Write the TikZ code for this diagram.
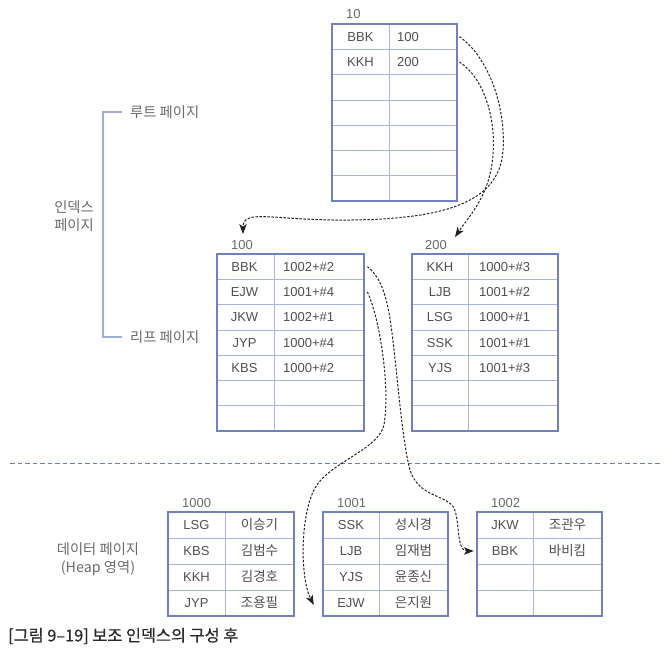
\documentclass[tikz,border=0pt]{standalone}
\usepackage{fontspec}
\setmainfont{Liberation Sans}
\newfontfamily\kr{Noto Sans CJK KR}
\newfontfamily\krcap{Noto Sans CJK KR}[FakeBold=0.6]
\usetikzlibrary{arrows.meta}
\definecolor{tblout}{HTML}{7080C4}
\definecolor{tblin}{HTML}{A9B5DE}
\definecolor{txt}{HTML}{505050}
\definecolor{lbl}{HTML}{6A6A6A}
\definecolor{capc}{HTML}{2A2A2A}
\definecolor{sepc}{HTML}{6E7CC0}
\definecolor{ptrc}{HTML}{222222}
% #1 x0, #2 y0, #3 xdiv, #4 x1, #5 row height, #6 rows, #7 rows-1
\newcommand\pgtable[7]{%
  \foreach \i in {1,...,#7} \draw[innerline] (#1,{#2+\i*#5}) -- (#4,{#2+\i*#5});
  \draw[innerline] (#3,#2) -- (#3,{#2+#6*#5});
  \draw[outerline] (#1,#2) rectangle (#4,{#2+#6*#5});
}
\begin{document}
\begin{tikzpicture}[x=1pt,y=-1pt,
  outerline/.style={draw=tblout, line width=1.4pt},
  innerline/.style={draw=tblin, line width=0.8pt},
  celltxt/.style={text=txt, font=\fontsize{13}{15}\selectfont, inner sep=0pt, text height=9.3pt, text depth=0pt},
  keyA/.style={celltxt, minimum width=57pt, align=center},
  valA/.style={celltxt, anchor=west, text width=59pt, align=left},
  valB/.style={celltxt, anchor=west, text width=81pt, align=left},
  nameC/.style={celltxt, minimum width=69pt, align=center, font=\kr\fontsize{13.5}{15}\selectfont},
  pglabel/.style={text=lbl, font=\fontsize{13}{15}\selectfont, inner sep=0pt, anchor=base west},
  side/.style={text=lbl, font=\kr\fontsize{14.3}{18}\selectfont, inner sep=0pt, align=center},
  brack/.style={draw=tblin!85!tblout, line width=1.2pt},
  ptr/.style={draw=ptrc, line width=1pt, dash pattern=on 2.4pt off 1.6pt, -{Stealth[length=10pt,width=7.5pt,inset=2.8pt]}},
  sepline/.style={draw=sepc, line width=1pt, dash pattern=on 4.5pt off 3pt}
]
\useasboundingbox (0,0) rectangle (672,653);

% ---------- root page 10 ----------
\pgtable{332}{24}{389}{457}{25.3}{7}{6}
\node[pglabel] (lbl10) at (346,19) {10};
\node[keyA] (r-k1) at (360.5,36.65) {BBK};
\node[keyA] (r-k2) at (360.5,61.95) {KKH};
\node[valA] (r-v1) at (397,36.65) {100};
\node[valA] (r-v2) at (397,61.95) {200};

% ---------- leaf page 100 ----------
\pgtable{217}{254}{274}{364}{25.3}{7}{6}
\node[pglabel] (lbl100) at (231,249) {100};
\foreach \n/\k/\v [count=\r] in {a/BBK/1002+\#2, b/EJW/1001+\#4, c/JKW/1002+\#1, d/JYP/1000+\#4, e/KBS/1000+\#2}{
  \node[keyA] (la-k\r) at (244.5,{254+(\r-0.5)*25.3}) {\k};
  \node[valB] (la-v\r) at (283,{254+(\r-0.5)*25.3}) {\v};
}

% ---------- leaf page 200 ----------
\pgtable{412}{254}{468}{558}{25.3}{7}{6}
\node[pglabel] (lbl200) at (425,249) {200};
\foreach \n/\k/\v [count=\r] in {a/KKH/1000+\#3, b/LJB/1001+\#2, c/LSG/1000+\#1, d/SSK/1001+\#1, e/YJS/1001+\#3}{
  \node[keyA, minimum width=56pt] (lb-k\r) at (440,{254+(\r-0.5)*25.3}) {\k};
  \node[valB] (lb-v\r) at (479,{254+(\r-0.5)*25.3}) {\v};
}

% ---------- data page 1000 ----------
\pgtable{168}{512}{225}{294}{26}{4}{3}
\node[pglabel] (lbl1000) at (182,507) {1000};
\foreach \k/\v [count=\r] in {LSG/이승기, KBS/김범수, KKH/김경호, JYP/조용필}{
  \node[keyA] (d0-k\r) at (196.5,{512+(\r-0.5)*26}) {\k};
  \node[nameC] (d0-v\r) at (259.5,{512+(\r-0.5)*26}) {\v};
}

% ---------- data page 1001 ----------
\pgtable{323}{512}{379}{448}{26}{4}{3}
\node[pglabel] (lbl1001) at (337,507) {1001};
\foreach \k/\v [count=\r] in {SSK/성시경, LJB/임재범, YJS/윤종신, EJW/은지원}{
  \node[keyA, minimum width=56pt] (d1-k\r) at (351,{512+(\r-0.5)*26}) {\k};
  \node[nameC] (d1-v\r) at (413.5,{512+(\r-0.5)*26}) {\v};
}

% ---------- data page 1002 ----------
\pgtable{477}{512}{533}{602}{26}{4}{3}
\node[pglabel] (lbl1002) at (491,507) {1002};
\foreach \k/\v [count=\r] in {JKW/조관우, BBK/바비킴}{
  \node[keyA, minimum width=56pt] (d2-k\r) at (505,{512+(\r-0.5)*26}) {\k};
  \node[nameC] (d2-v\r) at (567.5,{512+(\r-0.5)*26}) {\v};
}

% ---------- left side labels ----------
\node[side, anchor=west] (rootlbl) at (130,112) {루트 페이지};
\node[side, anchor=west] (leaflbl) at (130,337) {리프 페이지};
\node[side] (idxlbl) at (74,216) {인덱스\\페이지};
\coordinate (bt) at (103,112);
\coordinate (bb) at (103,337);
\draw[brack] ([xshift=-8pt]rootlbl.west) -- (bt) -- (bb) -- ([xshift=-8pt]leaflbl.west);
\node[side, font=\kr\fontsize{14.3}{17.5}\selectfont] (datalbl) at (98,559) {데이터 페이지\\(Heap 영역)};

% ---------- separator ----------
\coordinate (sepL) at (10,463);
\coordinate (sepR) at (662,463);
\draw[sepline] (sepL) -- (sepR);

% ---------- pointers ----------
\coordinate (inA) at (243,234);
\coordinate (inB) at (455,237);
\draw[ptr] ([xshift=3pt]r-v1.east) .. controls (490,58) and (506,110) .. (503,150)
  .. controls (500,198) and (455,219) .. (350,220)
  .. controls (275,221) and (243,208) .. (inA);
\draw[ptr] ([xshift=3pt]r-v2.east) .. controls (484,78) and (496,118) .. (493,155)
  .. controls (490,195) and (470,215) .. (inB);
\draw[ptr] ([xshift=3pt]la-v1.east) .. controls (382,278) and (388,300) .. (392,333)
  .. controls (398,380) and (402,440) .. (410,470)
  .. controls (418,495) and (440,494) .. (452,505)
  .. controls (461,515) and (455,551) .. ([xshift=-3pt]d2-k2.west);
\draw[ptr] ([xshift=3pt]la-v2.east) .. controls (381,322) and (390,390) .. (384,425)
  .. controls (378,450) and (330,462) .. (315,488)
  .. controls (300,515) and (300,578) .. ([xshift=-9pt,yshift=-2pt]d1-k4.west);

% ---------- caption ----------
\node[text=capc, font=\krcap\fontsize{16.3}{18}\selectfont, inner sep=0pt, anchor=west] (caption) at (8,636) {[그림 9–19] 보조 인덱스의 구성 후};
\end{tikzpicture}
\end{document}
